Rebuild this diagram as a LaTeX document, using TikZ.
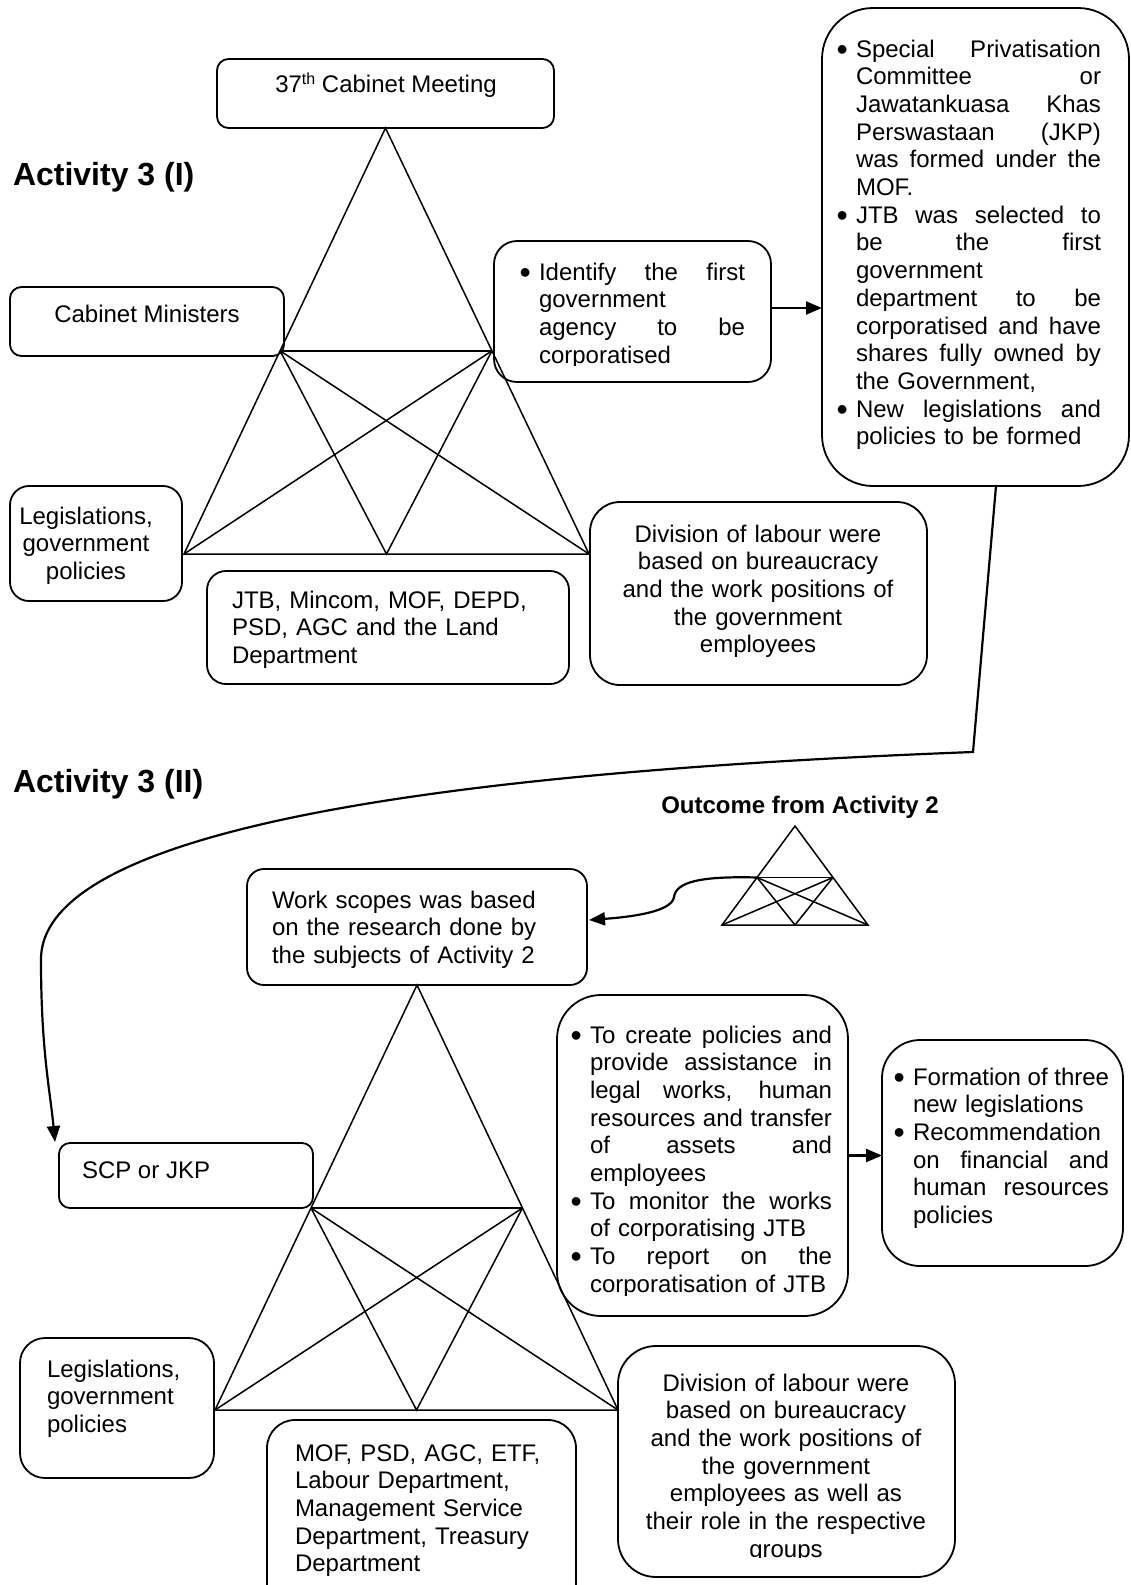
\documentclass[tikz,border=0pt]{standalone}
\usepackage{fontspec}
\setmainfont{Liberation Sans}
\usetikzlibrary{arrows.meta,calc,fit}

% hanging indent used by the bulleted lists
\newlength\bind
\setlength\bind{18pt}
% a slightly enlarged list bullet
\newcommand\bigbullet{\hspace*{-1.5pt}\raisebox{-3pt}{\fontsize{32}{32}\selectfont\textbullet}}
% a line spread to a given width, every interword space stretching alike
\newcommand\spreadline[2]{\makebox[#1][s]{\spaceskip=\fontdimen2\font plus 1fil\relax #2}}
% bullet + justified line, bullet + plain line, indented justified line, indented plain line
\newcommand\lnBJ[1]{\makebox[\bind][l]{\bigbullet}\spreadline{\dimexpr\hsize-\bind\relax}{#1}}
\newcommand\lnBP[1]{\makebox[\bind][l]{\bigbullet}#1}
\newcommand\lnIJ[1]{\hspace*{\bind}\spreadline{\dimexpr\hsize-\bind\relax}{#1}}
\newcommand\lnIP[1]{\hspace*{\bind}#1}

\tikzset{
  box/.style={draw, line width=1.8pt, inner sep=0pt, outer sep=0pt},
  txt/.style={inner sep=0pt, outer sep=0pt, font=\fontsize{24}{27.7}\selectfont},
  ltxt/.style={txt, anchor=base west, align=left},
  ctxt/.style={txt, anchor=base, align=center},
  title/.style={inner sep=0pt, outer sep=0pt, anchor=base west, font=\fontsize{32}{36}\selectfont\bfseries},
  tri/.style={line width=1.5pt, line join=miter},
  conn/.style={line width=2.2pt, -{Triangle[length=16pt,width=13pt]}},
}

\begin{document}
\begin{tikzpicture}[x=1pt,y=-1pt]
\path[use as bounding box, fill=white] (0,0) rectangle (1130,1585);

% ---------- boxes of Activity 3 (I)
\node[box, rounded corners=11.5pt, fit={(217,59) (554,128)}] (cab37) {};
\node[box, rounded corners=11.5pt, fit={(10,287) (284,356)}] (cabmin) {};
\node[box, rounded corners=19pt, fit={(10,486) (182,601)}] (leg1) {};
\node[box, rounded corners=19pt, fit={(207,571) (569,684)}] (jtb) {};
\node[box, rounded corners=23pt, fit={(494,241) (771,382)}] (ident) {};
\node[box, rounded corners=30pt, fit={(590,502) (927,685)}] (div1) {};
\node[box, rounded corners=51pt, fit={(822,8) (1129,486)}] (jkp) {};

% ---------- boxes of Activity 3 (II)
\node[box, rounded corners=17pt, fit={(247,869) (587,985)}] (work) {};
\node[box, rounded corners=11pt, fit={(59,1143) (313,1208)}] (scp) {};
\node[box, rounded corners=44pt, fit={(557,995) (848,1316)}] (create) {};
\node[box, rounded corners=38pt, fit={(882,1040) (1123,1266)}] (form) {};
\node[box, rounded corners=25pt, fit={(20,1338) (214,1478)}] (leg2) {};
\node[box, rounded corners=28pt, fit={(267,1420) (576,1640)}] (mof) {};
\node[box, rounded corners=38pt, fit={(618,1346) (955,1577)}] (div2) {};

% ---------- activity triangle (I)
\coordinate (A1) at (cab37.south);
\coordinate (BL1) at (184,554);
\coordinate (BR1) at (589,554);
\coordinate (ML1) at ($(A1)!0.523!(BL1)$);
\coordinate (MR1) at ($(A1)!0.523!(BR1)$);
\coordinate (BM1) at ($(BL1)!0.5!(BR1)$);
\draw[tri] (A1) -- (BL1) -- (BR1) -- cycle;
\draw[tri] (ML1) -- (MR1);
\draw[tri] (ML1) -- (BM1) -- (MR1);
\draw[tri] (ML1) -- (BR1);
\draw[tri] (MR1) -- (BL1);

% ---------- activity triangle (II)
\coordinate (A2) at (work.south);
\coordinate (BL2) at (215,1410);
\coordinate (BR2) at (618,1410);
\coordinate (ML2) at ($(A2)!0.5247!(BL2)$);
\coordinate (MR2) at ($(A2)!0.5247!(BR2)$);
\coordinate (BM2) at ($(BL2)!0.5!(BR2)$);
\draw[tri] (A2) -- (BL2) -- (BR2) -- cycle;
\draw[tri] (ML2) -- (MR2);
\draw[tri] (ML2) -- (BM2) -- (MR2);
\draw[tri] (ML2) -- (BR2);
\draw[tri] (MR2) -- (BL2);

% ---------- small triangle: outcome of Activity 2
\coordinate (A3) at (795,826);
\coordinate (BL3) at (722,925);
\coordinate (BR3) at (868,925);
\coordinate (ML3) at ($(A3)!0.52!(BL3)$);
\coordinate (MR3) at ($(A3)!0.52!(BR3)$);
\coordinate (BM3) at ($(BL3)!0.5!(BR3)$);
\draw[tri] (A3) -- (BL3) -- (BR3) -- cycle;
\draw[tri] (ML3) -- (MR3);
\draw[tri] (ML3) -- (BM3) -- (MR3);
\draw[tri] (ML3) -- (BR3);
\draw[tri] (MR3) -- (BL3);

% ---------- connectors
\draw[conn] ([yshift=3.5pt]ident.east) -- ([yshift=3.5pt]ident.east -| jkp.west);
\draw[conn] (create.east) -- (create.east -| form.west);

\coordinate (jkpout) at ([xshift=20.5pt]jkp.south);
\coordinate (bend) at (973,752);
\coordinate (scpin) at ([xshift=-4pt,yshift=1pt]scp.north west);
\draw[conn, line join=miter] (jkpout) -- (bend)
  .. controls (500,770) and (40,820) .. (41,960)
  .. controls (41,1050) and (50,1090) .. (scpin);

\coordinate (wkin) at ([xshift=2pt,yshift=7pt]work.east);
\draw[conn] (ML3) .. controls (700,876) and (676,882) .. (674,897)
  .. controls (672,912) and (630,917) .. (wkin);

% ---------- titles
\node[title] (t1) at (13,185) {Activity 3 (I)};
\node[title] (t2) at (13,792) {Activity 3 (II)};
\node[txt, anchor=base, font=\fontsize{24}{27.7}\selectfont\bfseries] (t3) at (800,813) {Outcome from Activity 2};

% ---------- texts of Activity 3 (I)
\node[txt, anchor=base] (cab37t) at (386,92.5) {37\raisebox{8pt}{\fontsize{16}{16}\selectfont th} Cabinet Meeting};
\node[txt, anchor=base] (cabmint) at (147,322) {Cabinet Ministers};
\node[ctxt, text width=170pt] (leg1t) at (86,524) {Legislations,\\government\\policies};
\node[ltxt, text width=330pt] (jtbt) at (232,608) {JTB, Mincom, MOF, DEPD,\\PSD, AGC and the Land\\Department};
\begin{scope}
  \clip (490,235) rectangle (780,365);
  \node[ltxt, text width=224pt] (identt) at (521,280)
    {\lnBJ{Identify the first}\\\lnIP{government}\\\lnIJ{agency to be}\\\lnIP{corporatised}};
\end{scope}
\node[ltxt, text width=263pt] (jkpt) at (838,57)
  {\lnBJ{Special Privatisation}\\\lnIJ{Committee or}\\\lnIJ{Jawatankuasa Khas}\\\lnIJ{Perswastaan (JKP)}\\\lnIJ{was formed under the}\\\lnIP{MOF.}\\%
   \lnBJ{JTB was selected to}\\\lnIJ{be the first}\\\lnIP{government}\\\lnIJ{department to be}\\\lnIJ{corporatised and have}\\\lnIJ{shares fully owned by}\\\lnIP{the Government,}\\%
   \lnBJ{New legislations and}\\\lnIP{policies to be formed}};
\node[ctxt, text width=330pt] (div1t) at (758,542)
  {Division of labour were\\based on bureaucracy\\and the work positions of\\the government\\employees};

% ---------- texts of Activity 3 (II)
\node[ltxt, text width=320pt] (workt) at (272,908) {Work scopes was based\\on the research done by\\the subjects of Activity 2};
\node[txt, anchor=base west] (scpt) at (82,1178) {SCP or JKP};
\begin{scope}
  \clip (550,990) rectangle (850,1295);
  \node[ltxt, text width=260pt] (createt) at (572,1043)
    {\lnBJ{To create policies and}\\\lnIJ{provide assistance in}\\\lnIJ{legal works, human}\\\lnIJ{resources and transfer}\\\lnIJ{of assets and}\\\lnIP{employees}\\%
     \lnBJ{To monitor the works}\\\lnIP{of corporatising JTB}\\%
     \lnBJ{To report on the}\\\lnIP{corporatisation of JTB}};
\end{scope}
\node[ltxt, text width=214pt] (formt) at (895,1085)
  {\lnBJ{Formation of three}\\\lnIP{new legislations}\\\lnBP{Recommendation}\\\lnIJ{on financial and}\\\lnIJ{human resources}\\\lnIP{policies}};
\node[ltxt, text width=180pt] (leg2t) at (47,1377) {Legislations,\\government\\policies};
\node[ltxt, text width=290pt] (moft) at (295,1461) {MOF, PSD, AGC, ETF,\\Labour Department,\\Management Service\\Department, Treasury\\Department};
\begin{scope}
  \clip (610,1340) rectangle (960,1557);
  \node[ctxt, text width=330pt] (div2t) at (786,1391)
    {Division of labour were\\based on bureaucracy\\and the work positions of\\the government\\employees as well as\\their role in the respective\\groups};
\end{scope}
\end{tikzpicture}
\end{document}
